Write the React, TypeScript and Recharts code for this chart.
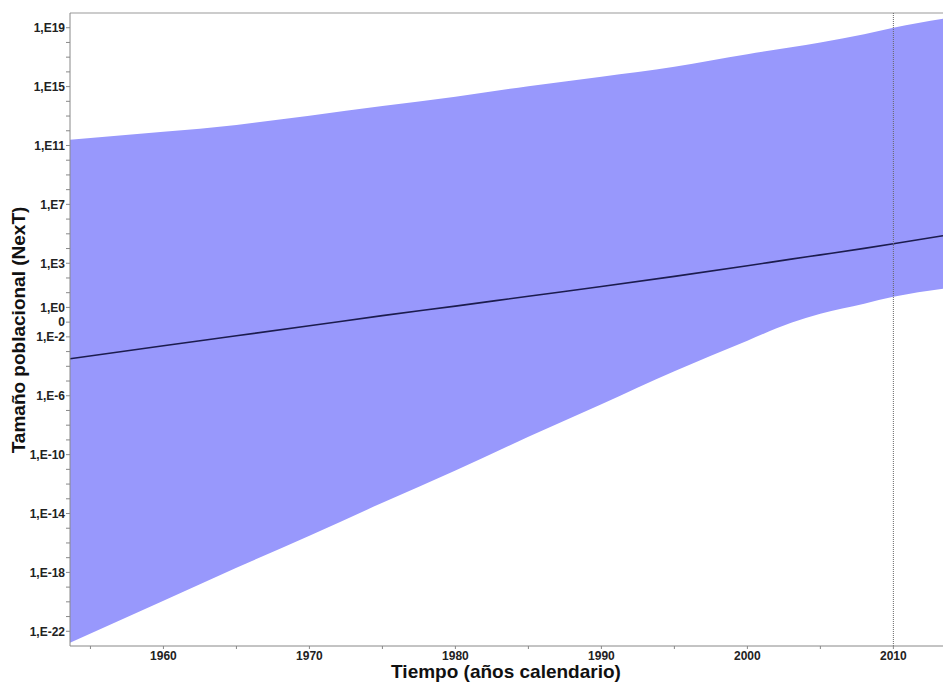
import { ComposedChart, Area, Line, XAxis, YAxis, ReferenceLine } from 'recharts'

// log10 of population size
const years = [1953.6, 1960, 1965, 1970, 1975, 1980, 1985, 1990, 1995, 2000, 2003, 2005, 2008, 2010, 2013.4]
const upperExp = [11.39, 11.93, 12.4, 13.02, 13.68, 14.31, 15.03, 15.67, 16.35, 17.2, 17.68, 18.0, 18.55, 19.0, 19.61]
const lowerExp = [-22.78, -19.93, -17.69, -15.51, -13.27, -11.07, -8.79, -6.58, -4.34, -2.26, -1.04, -0.43, 0.25, 0.72, 1.27]
const meanExp = [-3.49, -2.6, -1.93, -1.25, -0.56, 0.09, 0.76, 1.42, 2.11, 2.83, 3.28, 3.57, 4.01, 4.32, 4.87]

const yLabels: Record<number, string> = {
  19: '1,E19', 15: '1,E15', 11: '1,E11', 7: '1,E7', 3: '1,E3', 0: '1,E0', [-1]: '0',
  [-2]: '1,E-2', [-6]: '1,E-6', [-10]: '1,E-10', [-14]: '1,E-14', [-18]: '1,E-18', [-22]: '1,E-22',
}
const yTicks = Array.from({ length: 42 }, (_, i) => 19 - i)
const xTicks = [1955, 1960, 1965, 1970, 1975, 1980, 1985, 1990, 1995, 2000, 2005, 2010]
const xLabels = [1960, 1970, 1980, 1990, 2000, 2010]

const data = years.map((year, i) => ({ year, band: [lowerExp[i], upperExp[i]], mean: meanExp[i] }))

const font = '"Liberation Sans", Arial, sans-serif'
const tickStyle = { fontSize: 12, fontWeight: 700, fill: '#222', fontFamily: font }

export default function App() {
  return (
    <div style={{ position: 'absolute', left: 0, top: 0, width: 943, height: 682, background: '#fff', fontFamily: font }}>
      <ComposedChart width={943} height={682} data={data} margin={{ top: 13, right: 0, left: 0, bottom: 0 }}>
        <XAxis
          dataKey="year"
          type="number"
          domain={[1953.6, 2013.4]}
          allowDataOverflow
          ticks={xTicks}
          tickFormatter={(v: number) => (xLabels.includes(v) ? String(v) : '')}
          tick={tickStyle}
          stroke="#888"
          tickSize={3}
          tickMargin={2}
          height={36}
        />
        <YAxis
          type="number"
          domain={[-23, 20]}
          allowDataOverflow
          ticks={yTicks}
          interval={0}
          tickFormatter={(v: number) => yLabels[v] ?? ''}
          tick={tickStyle}
          stroke="#888"
          tickSize={4}
          tickMargin={1}
          width={70}
        />
        <ReferenceLine y={20} stroke="#999" />
        <Area
          dataKey="band"
          type="monotone"
          fill="#9898fc"
          fillOpacity={1}
          stroke="none"
          isAnimationActive={false}
        />
        <Line
          dataKey="mean"
          type="monotone"
          stroke="#1c1c4e"
          strokeWidth={1.6}
          dot={false}
          isAnimationActive={false}
        />
        <ReferenceLine x={2010} stroke="#666" strokeDasharray="1 1" />
      </ComposedChart>
      <div
        style={{
          position: 'absolute', left: 506, top: 664, transform: 'translateX(-50%)',
          fontSize: 19, fontWeight: 700, color: '#111', whiteSpace: 'nowrap', lineHeight: '16px',
        }}
      >
        Tiempo (años calendario)
      </div>
      <div
        style={{
          position: 'absolute', left: 18, top: 330, transform: 'translate(-50%, -50%) rotate(-90deg)',
          fontSize: 19, fontWeight: 700, color: '#111', whiteSpace: 'nowrap', lineHeight: '21px',
        }}
      >
        Tamaño poblacional (NexT)
      </div>
    </div>
  )
}
